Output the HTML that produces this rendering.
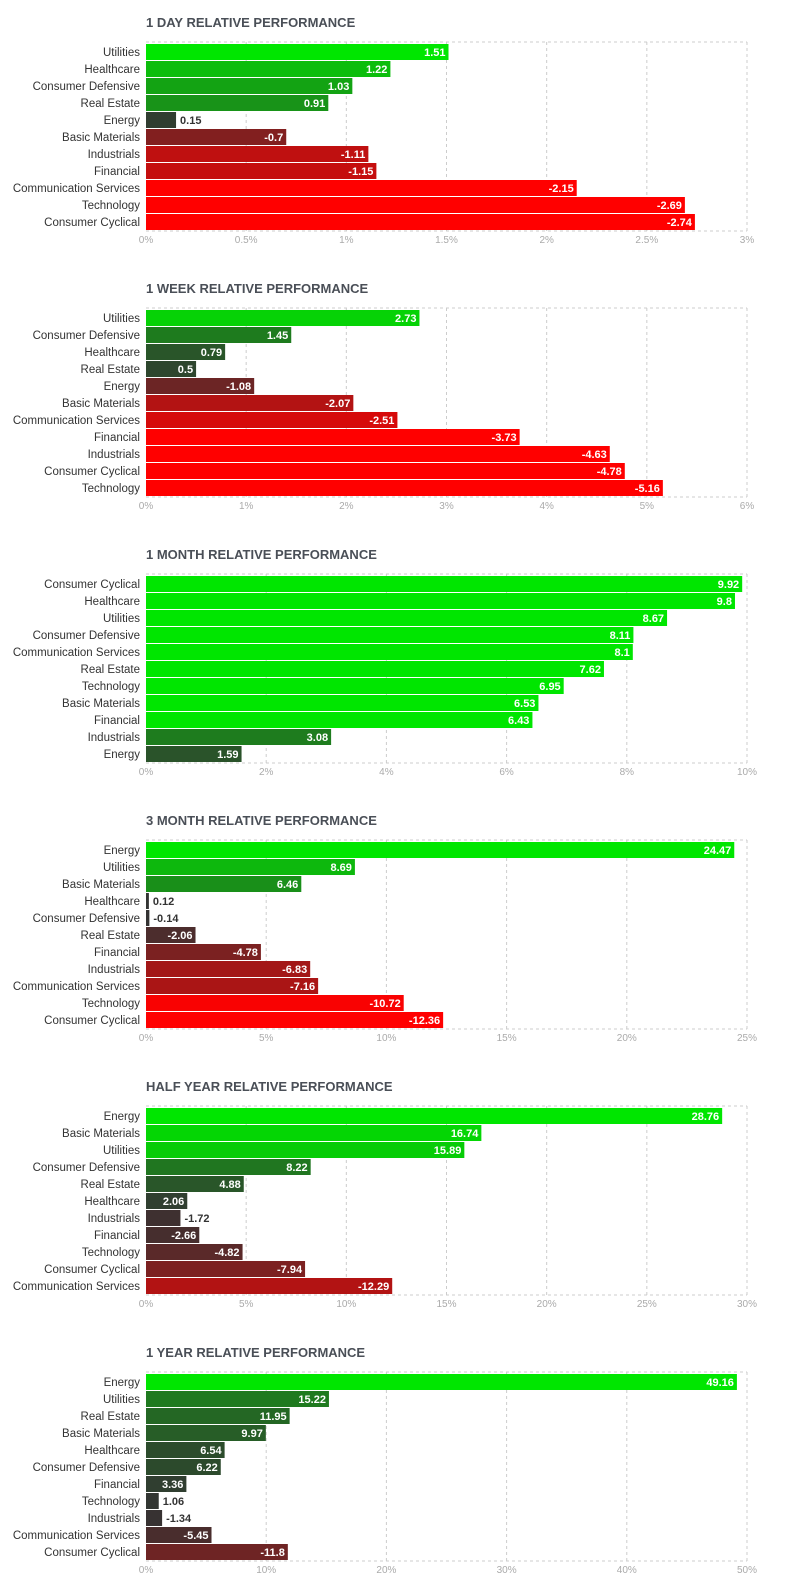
<!DOCTYPE html>
<html><head><meta charset="utf-8">
<style>
body{margin:0;background:#fff;width:786px;height:1589px;overflow:hidden;font-family:"Liberation Sans",sans-serif;}
svg{display:block}
</style></head>
<body>
<svg id="c" width="786" height="1589" xmlns="http://www.w3.org/2000/svg"></svg>
<script>
const titles=["1 DAY RELATIVE PERFORMANCE","1 WEEK RELATIVE PERFORMANCE","1 MONTH RELATIVE PERFORMANCE","3 MONTH RELATIVE PERFORMANCE","HALF YEAR RELATIVE PERFORMANCE","1 YEAR RELATIVE PERFORMANCE"];
const cats1=["Utilities","Healthcare","Consumer Defensive","Real Estate","Energy","Basic Materials","Industrials","Financial","Communication Services","Technology","Consumer Cyclical"];
const vals1=[1.51,1.22,1.03,0.91,0.15,-0.7,-1.11,-1.15,-2.15,-2.69,-2.74];
const cats2=["Utilities","Consumer Defensive","Healthcare","Real Estate","Energy","Basic Materials","Communication Services","Financial","Industrials","Consumer Cyclical","Technology"];
const vals2=[2.73,1.45,0.79,0.5,-1.08,-2.07,-2.51,-3.73,-4.63,-4.78,-5.16];
const cats3=["Consumer Cyclical","Healthcare","Utilities","Consumer Defensive","Communication Services","Real Estate","Technology","Basic Materials","Financial","Industrials","Energy"];
const vals3=[9.92,9.8,8.67,8.11,8.1,7.62,6.95,6.53,6.43,3.08,1.59];
const cats4=["Energy","Utilities","Basic Materials","Healthcare","Consumer Defensive","Real Estate","Financial","Industrials","Communication Services","Technology","Consumer Cyclical"];
const vals4=[24.47,8.69,6.46,0.12,-0.14,-2.06,-4.78,-6.83,-7.16,-10.72,-12.36];
const cats5=["Energy","Basic Materials","Utilities","Consumer Defensive","Real Estate","Healthcare","Industrials","Financial","Technology","Consumer Cyclical","Communication Services"];
const vals5=[28.76,16.74,15.89,8.22,4.88,2.06,-1.72,-2.66,-4.82,-7.94,-12.29];
const cats6=["Energy","Utilities","Real Estate","Basic Materials","Healthcare","Consumer Defensive","Financial","Technology","Industrials","Communication Services","Consumer Cyclical"];
const vals6=[49.16,15.22,11.95,9.97,6.54,6.22,3.36,1.06,-1.34,-5.45,-11.8];
const ticks1=["0%","0.5%","1%","1.5%","2%","2.5%","3%"];
const ticks2=["0%","1%","2%","3%","4%","5%","6%"];
const ticks3=["0%","2%","4%","6%","8%","10%"];
const ticks4=["0%","5%","10%","15%","20%","25%"];
const ticks5=["0%","5%","10%","15%","20%","25%","30%"];
const ticks6=["0%","10%","20%","30%","40%","50%"];
const maxes=[3,6,10,25,30,50];
const sats=[1.5,3,6.3,11,18,32];
const charts=[[cats1,vals1,ticks1],[cats2,vals2,ticks2],[cats3,vals3,ticks3],[cats4,vals4,ticks4],[cats5,vals5,ticks5],[cats6,vals6,ticks6]];
const NS="http://www.w3.org/2000/svg";
const svg=document.getElementById('c');
function mk(t,a,p){const e=document.createElementNS(NS,t);for(const k in a)e.setAttribute(k,a[k]);(p||svg).appendChild(e);return e;}
function mix(a,b,t){return 'rgb('+a.map((v,i)=>Math.round(v+(b[i]-v)*t)).join(',')+')';}
function color(v,s){let t=Math.min(Math.abs(v)/s,1);t=Math.pow(t,1.25);
 return v>=0?mix([51,51,51],[0,230,0],t):mix([51,51,51],[255,0,0],t);}
const L=146,R=747,W=R-L,RH=17;
charts.forEach((c,ci)=>{
 const [cats,vals,ticks]=c;const oy=ci*266;
 const g=mk('g',{});
 
 
 const tt=mk('text',{x:146,y:oy+27,'font-size':13,'font-weight':'bold',fill:'#4a4f57'},g);tt.textContent=titles[ci];
 
 
 const top=oy+42,bot=top+11*RH+2;
 const xs=v=>L+v/maxes[ci]*W;
 ticks.forEach((lab,i)=>{const x=L+i*W/(ticks.length-1);
  if(i>0)mk('line',{x1:x,x2:x,y1:top,y2:bot,stroke:'#ccc','stroke-dasharray':'3,3'},g);
  const t=mk('text',{x:x,y:bot+12,'font-size':10,fill:'#aaa','text-anchor':'middle'},g);t.textContent=lab;
  
  });
 mk('line',{x1:L,x2:R,y1:top,y2:top,stroke:'#ccc','stroke-dasharray':'3,3'},g);
 mk('line',{x1:L,x2:R,y1:bot,y2:bot,stroke:'#ccc','stroke-dasharray':'3,3'},g);
 cats.forEach((cat,i)=>{const y=top+2+i*RH;const v=vals[i];
  const lt=mk('text',{x:140,y:y+12,'font-size':11.5,fill:'#333','text-anchor':'end'},g);lt.textContent=cat;
  
  
  const w=xs(Math.abs(v))-L;
  const b=mk('rect',{x:L,y:y,width:Math.max(w,1),height:RH-1,fill:color(v,sats[ci])},g);
  
  
  const s=String(v);const inside=w>36;
  const vt=mk('text',{x:inside?L+w-3:L+w+4,y:y+12,'font-size':11,'font-weight':'bold',fill:inside?'#fff':'#333','text-anchor':inside?'end':'start'},g);vt.textContent=s;
  
  });
});
</script>
</body></html>
